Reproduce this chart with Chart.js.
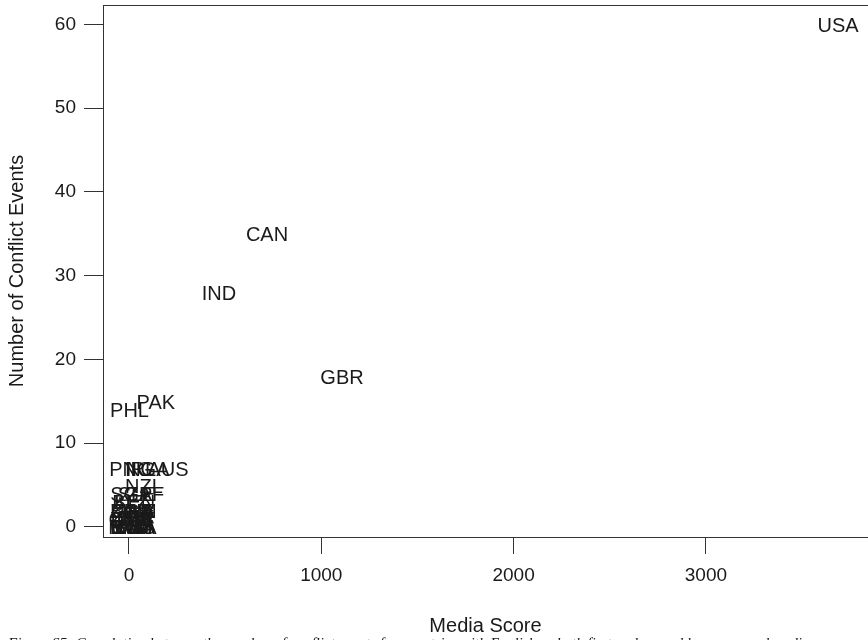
<!DOCTYPE html>
<html>
<head>
<meta charset="utf-8">
<script src="https://cdn.jsdelivr.net/npm/chart.js@4.4.1/dist/chart.umd.min.js"></script>
<style>
  html, body { margin: 0; padding: 0; background: #fff; }
  #wrap { position: relative; width: 868px; height: 640px; overflow: hidden; }
  #wrap canvas { position: absolute; left: 0; top: 0; }
</style>
</head>
<body>
<div id="wrap"><canvas id="scatter" width="880" height="640"></canvas></div>
<script>
const countries = ['USA', 'CAN', 'IND', 'GBR', 'PAK', 'PHL', 'AUS', 'PNG', 'IRL', 'NGA', 'NZL',
    'SGP', 'ZAF', 'SLE', 'BLZ', 'KEN', 'GHA', 'UGA', 'JAM', 'ZWE', 'ZMB', 'TZA', 'CMR',
    'LBR', 'MLT', 'BWA', 'NAM', 'MWI', 'RWA', 'FJI', 'TTO', 'BHS', 'BRB', 'GUY'];
const mediaScore = [3687, 718, 468, 1108, 140, 3, 203, 10, 60, 98, 78,
    12, 85, 40, 8, 30, 22, 15, 40, 20, 10, 28, 12,
    5, 35, 18, 8, 14, 25, 6, 20, 30, 10, 15];
const conflictEvents = [60, 35, 28, 18, 15, 14, 7, 7, 7, 7, 5,
    4, 4, 4, 3, 3, 2, 2, 2, 2, 1, 1, 1,
    1, 1, 0, 0, 0, 0, 0, 1, 0, 2, 0];
const xTicks = [0, 1000, 2000, 3000];
const yTicks = [0, 10, 20, 30, 40, 50, 60];

const ink = '#1a1a1a';
const font = '"Liberation Sans", Arial, sans-serif';

// R style: text instead of points, plus a full box
const countryLabels = {
    id: 'countryLabels',
    afterDatasetsDraw(chart) {
        const ctx = chart.ctx;
        const meta = chart.getDatasetMeta(0);
        ctx.save();
        ctx.font = '20px ' + font;
        ctx.fillStyle = ink;
        ctx.textAlign = 'center';
        ctx.textBaseline = 'middle';
        meta.data.forEach((pt, i) => ctx.fillText(countries[i], pt.x, pt.y + 2));
        ctx.restore();
    }
};

const plotBox = {
    id: 'plotBox',
    afterDraw(chart) {
        const a = chart.chartArea;
        const ctx = chart.ctx;
        ctx.save();
        ctx.strokeStyle = '#333';
        ctx.lineWidth = 1;
        ctx.strokeRect(Math.round(a.left) + 0.5, Math.round(a.top) + 0.5,
            Math.round(a.right - a.left), Math.round(a.bottom - a.top));
        // caption of the figure, cut by the bottom edge
        ctx.font = 'italic 15px "Liberation Serif", serif';
        ctx.fillStyle = ink;
        ctx.textBaseline = 'alphabetic';
        ctx.fillText('Figure S5: Correlation between the number of conflict events for countries with English as both first and second language and media score', 8, 648);
        ctx.restore();
    }
};

new Chart(document.getElementById('scatter').getContext('2d'), {
    type: 'scatter',
    data: {
        datasets: [{
            label: 'countries',
            data: mediaScore.map((x, i) => ({ x: x, y: conflictEvents[i] })),
            pointRadius: 0,
            pointHoverRadius: 0
        }]
    },
    options: {
        responsive: false,
        animation: false,
        layout: { padding: { top: 5, right: 12, left: 0, bottom: 0 } },
        plugins: {
            legend: { display: false },
            tooltip: { enabled: false }
        },
        scales: {
            x: {
                type: 'linear',
                min: -135,
                max: 3843,
                afterFit: s => { s.height = 103; s.paddingLeft = 0; s.paddingRight = 0; },
                afterBuildTicks: s => { s.ticks = xTicks.map(v => ({ value: v })); },
                border: { display: false },
                grid: { drawOnChartArea: false, color: '#333', tickLength: 17, tickWidth: 1 },
                ticks: { color: ink, font: { family: font, size: 19 }, padding: 10, maxRotation: 0,
                    callback: v => String(v) },
                title: { display: true, text: 'Media Score', color: ink, font: { family: font, size: 20 }, padding: { top: 0, bottom: 2 } }
            },
            y: {
                type: 'linear',
                min: -1.2,
                max: 62.3,
                afterFit: s => { s.width = 103; s.paddingTop = 0; s.paddingBottom = 0; },
                afterBuildTicks: s => { s.ticks = yTicks.map(v => ({ value: v })); },
                border: { display: false },
                grid: { drawOnChartArea: false, color: '#333', tickLength: 19, tickWidth: 1 },
                ticks: { color: ink, font: { family: font, size: 19 }, padding: 8,
                    callback: v => String(v) },
                title: { display: true, text: 'Number of Conflict Events', color: ink, font: { family: font, size: 20 }, padding: { top: 5, bottom: 0 } }
            }
        }
    },
    plugins: [countryLabels, plotBox]
});
</script>
</body>
</html>
